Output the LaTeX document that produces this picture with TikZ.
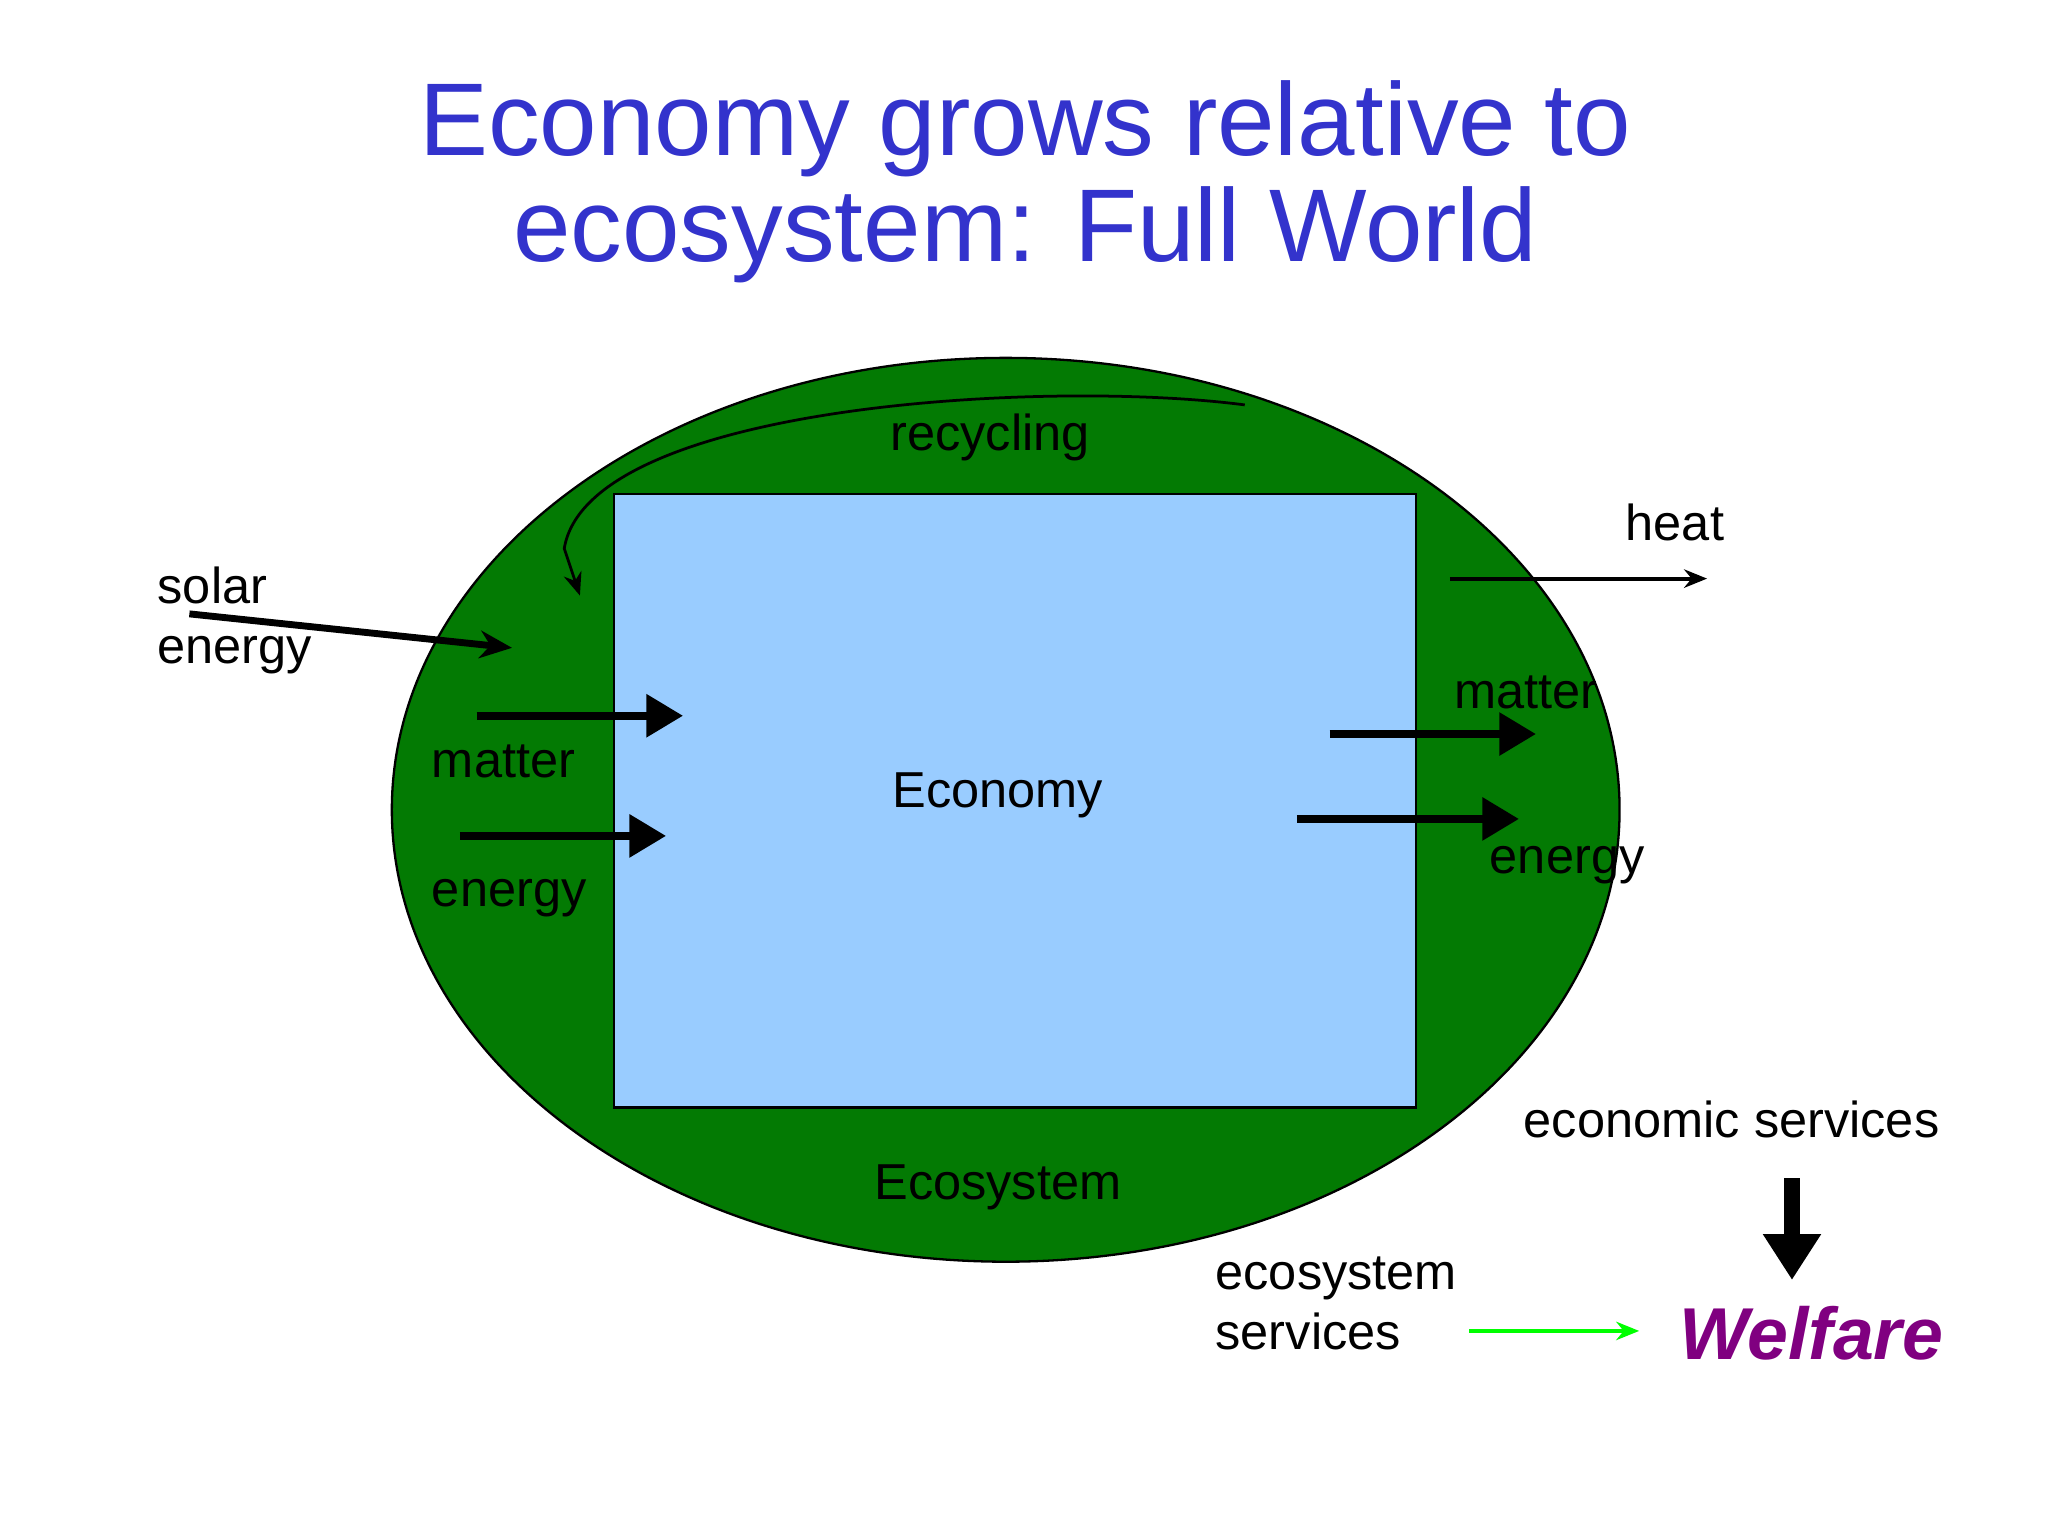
\documentclass[tikz,border=0pt]{standalone}
\usepackage{fontspec}
\setmainfont{Liberation Sans}
\usetikzlibrary{arrows.meta}
\definecolor{titleblue}{HTML}{3333CC}
\definecolor{eco}{HTML}{037A03}
\definecolor{econ}{HTML}{99CCFF}
\definecolor{welf}{HTML}{800080}
\tikzset{
 lbl/.style={font=\fontsize{11}{13}\selectfont, inner sep=0pt},
 lbll/.style={lbl, anchor=west, align=left},
 fat/.style={line width=1.8pt, -{Triangle[length=8pt,width=9pt]}},
 thin/.style={line width=0.9pt, -{Stealth[length=5pt,width=4pt]}},
}
\begin{document}
\begin{tikzpicture}[x=0.01cm,y=-0.01cm]
\useasboundingbox (0,0) rectangle (1568,1176);
\node[font=\fontsize{22.5}{25}\selectfont, text=titleblue, align=center] (title) at (785,139) {Economy grows relative to\\[-2pt]ecosystem: Full World};
\draw[fill=eco, draw=black, line width=0.5pt] (770,620) ellipse [x radius=470, y radius=346];
\node[draw=black, fill=econ, line width=0.5pt, minimum width=614*0.01cm, minimum height=470*0.01cm, inner sep=0pt] (econbox) at (777,613) {};
\node[lbl] (economy) at (764,609) {Economy};
\node[lbl] (ecosystem) at (764,909) {Ecosystem};
\node[lbl] (recycling) at (758,335) {recycling};
\coordinate (r1) at (953,310);
\coordinate (r2) at (444,456);
\draw[line width=0.6pt, -{Stealth[length=5pt,width=4pt]}] (r1) .. controls (800,290) and (450,310) .. (432,420) -- (r2);
\node[lbll] (solar) at (120,475) {solar\\energy};
\coordinate (s1) at (145,470); \coordinate (s2) at (392,496);
\draw[line width=1.5pt, -{Stealth[length=7pt,width=6pt]}] (s1) -- (s2);
\coordinate (m1) at (365,548); \coordinate (m2) at (523,548);
\draw[fat] (m1) -- (m2);
\node[lbll] (matterL) at (330,583) {matter};
\coordinate (e1) at (352,640); \coordinate (e2) at (510,640);
\draw[fat] (e1) -- (e2);
\node[lbll] (energyL) at (330,688) {energy};
\coordinate (h1) at (1110,443); \coordinate (h2) at (1307,443);
\draw[thin] (h1) -- (h2);
\node[lbll] (heat) at (1244,400) {heat};
\coordinate (m3) at (1018,562); \coordinate (m4) at (1176,562);
\draw[fat] (m3) -- (m4);
\node[lbll] (matterR) at (1113,530) {matter};
\coordinate (e3) at (993,627); \coordinate (e4) at (1163,627);
\draw[fat] (e3) -- (e4);
\node[lbll] (energyR) at (1140,662) {energy};
\node[lbll] (econserv) at (1166,857) {economic services};
\node[font=\fontsize{16}{18}\selectfont\bfseries\itshape, text=welf, anchor=west, inner sep=0pt] (welfare) at (1285,1021) {Welfare};
\coordinate (d1) at (1372,902); \coordinate (d2) at (1372,980);
\draw[line width=3.5pt, -{Triangle[length=10pt,width=12pt]}] (d1) -- (d2);
\node[lbll] (ecoserv) at (930,998) {ecosystem\\services};
\coordinate (g1) at (1125,1019); \coordinate (g2) at (1255,1019);
\draw[line width=0.8pt, green, -{Stealth[length=5pt,width=4pt]}] (g1) -- (g2);
\end{tikzpicture}
\end{document}
